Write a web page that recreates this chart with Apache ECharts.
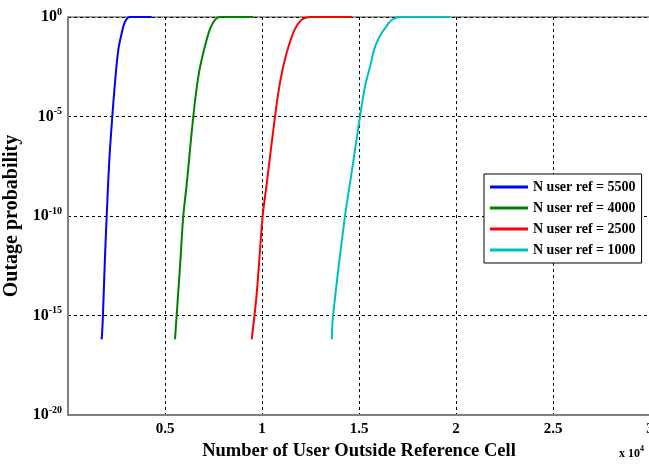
<!DOCTYPE html>
<html>
<head>
<meta charset="utf-8">
<script src="https://cdn.jsdelivr.net/npm/echarts@6/dist/echarts.min.js"></script>
<style>
  html, body { margin: 0; padding: 0; background: #fff; }
  #chart { width: 649px; height: 464px; }
</style>
</head>
<body>
<div id="chart"></div>
<script>
// 图例名称
const seriesNames = ['N user ref = 5500', 'N user ref = 4000', 'N user ref = 2500', 'N user ref = 1000'];
const seriesColors = ['#0000ff', '#008000', '#ff0000', '#00bfbf'];

// 横轴：小区外用户数；纵轴：中断概率的指数 (10^n)
const blueX = [1737, 1789, 1907, 1995, 2129, 2284, 2423, 2593, 2768, 2938, 3196, 4314];
const blueExp = [-16.2, -15.3, -12.05, -10.0, -7.2, -5.0, -3.3, -1.65, -0.82, -0.24, 0, 0];

const greenX = [5515, 5773, 5943, 6119, 6459, 6717, 6974, 7320, 7577, 7835, 9552];
const greenExp = [-16.2, -12.55, -10.0, -8.4, -5.0, -3.0, -1.8, -0.6, -0.14, 0, 0];

const redX = [9469, 9727, 10036, 10242, 10670, 10928, 11273, 11701, 12046, 12474, 14624];
const redExp = [-16.2, -13.9, -10.0, -8.4, -5.0, -3.3, -1.8, -0.6, -0.14, 0, 0];

const cyanX = [13593, 13675, 14278, 14624, 14881, 15052, 15309, 15567, 15825, 16082, 16428, 16686, 17113, 19691];
const cyanExp = [-16.2, -14.9, -10.0, -7.8, -6.1, -5.0, -3.5, -2.5, -1.5, -0.95, -0.45, -0.15, 0, 0];

const xTickLabels = ['0.5', '1', '1.5', '2', '2.5', '3'];

const chart = echarts.init(document.getElementById('chart'), null, { renderer: 'canvas' });

const serif = '"Liberation Serif", "DejaVu Serif", serif';

const toPairs = (xs, es) => xs.map((x, i) => [x, Math.pow(10, es[i])]);
const allX = [blueX, greenX, redX, cyanX];
const allExp = [blueExp, greenExp, redExp, cyanExp];

const option = {
    animation: false,
    backgroundColor: '#fff',
    grid: {
        left: 68, top: 17, width: 582, height: 398,
        outerBoundsMode: 'none',
        containLabel: false,
        show: true, borderColor: '#444', borderWidth: 1
    },
    legend: {
        orient: 'vertical',
        left: 484, top: 174,
        padding: [6, 6, 6, 6],
        itemGap: 7,
        itemWidth: 38, itemHeight: 3,
        icon: 'rect',
        backgroundColor: '#fff',
        borderColor: '#000', borderWidth: 1,
        textStyle: { fontFamily: serif, fontWeight: 'bold', fontSize: 14, color: '#000' },
        data: seriesNames
    },
    xAxis: {
        type: 'value',
        min: 0, max: 30000, interval: 5000,
        name: 'Number of User Outside Reference Cell',
        nameLocation: 'middle', nameGap: 23,
        nameTextStyle: { fontFamily: serif, fontWeight: 'bold', fontSize: 18.5, color: '#000' },
        axisLine: { lineStyle: { color: '#808080', width: 2 } },
        axisTick: { show: false },
        axisLabel: {
            fontFamily: serif, fontWeight: 'bold', fontSize: 15, color: '#000', margin: 7,
            formatter: v => v === 0 ? '' : xTickLabels[Math.round(v / 5000) - 1]
        },
        splitLine: { show: true, lineStyle: { color: '#000', type: [3, 3], width: 1 } }
    },
    yAxis: {
        type: 'log', logBase: 10,
        min: 1e-20, max: 1, interval: 5,
        name: 'Outage probability',
        nameLocation: 'middle', nameGap: 38,
        nameTextStyle: { fontFamily: serif, fontWeight: 'bold', fontSize: 20, color: '#000' },
        axisLine: { show: true, lineStyle: { color: '#808080', width: 2 } },
        axisTick: { show: false },
        axisLabel: {
            margin: 6,
            formatter: v => '{b|10}{s|' + Math.round(Math.log10(v)) + '}',
            rich: {
                b: { fontFamily: serif, fontWeight: 'bold', fontSize: 16, color: '#000' },
                s: { fontFamily: serif, fontWeight: 'bold', fontSize: 10, color: '#000', padding: [0, 0, 10, 0] }
            }
        },
        splitLine: { show: true, lineStyle: { color: '#000', type: [3, 3], width: 1 } }
    },
    graphic: [{
        type: 'text', left: 619, top: 445,
        style: {
            text: '{b|x 10}{s|4}',
            rich: {
                b: { fontFamily: serif, fontWeight: 'bold', fontSize: 12, fill: '#000' },
                s: { fontFamily: serif, fontWeight: 'bold', fontSize: 8, fill: '#000', padding: [0, 0, 9, 0] }
            }
        }
    }],
    series: seriesNames.map((name, i) => ({
        name: name,
        type: 'line',
        data: toPairs(allX[i], allExp[i]),
        showSymbol: false,
        smooth: 0.35,
        lineStyle: { color: seriesColors[i], width: 2 },
        itemStyle: { color: seriesColors[i] }
    }))
};

chart.setOption(option);
</script>
</body>
</html>
